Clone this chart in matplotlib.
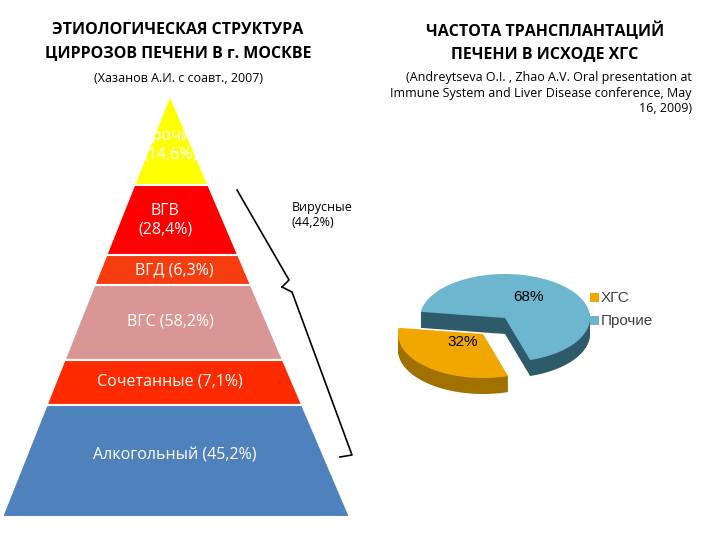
import numpy as np
import matplotlib
matplotlib.use("Agg")
import matplotlib.pyplot as plt
from matplotlib.patches import Polygon, Rectangle

plt.rcParams['font.family'] = ['Open Sans', 'DejaVu Sans']

# data
layer_labels = ["Прочие\n(14,6%)", "ВГВ\n(28,4%)", "ВГД (6,3%)", "ВГС (58,2%)",
                "Сочетанные (7,1%)", "Алкогольный (45,2%)"]
layer_colors = ["#ffff00", "#ff0000", "#f53d10", "#d99694", "#fe2a00", "#4f81bd"]
pie_labels = ["ХГС", "Прочие"]
pie_values = [32, 68]
pie_colors = ["#f0a800", "#6db6d0"]
pie_dark = ["#a07000", "#2f5a6a"]

# layout (pixels)
bounds = [95, 185, 255, 285, 360, 405, 517]
apex_x, base_l, base_r = 170, 2, 350

fig = plt.figure(figsize=(7.2, 5.4), dpi=100)
ax = fig.add_axes([0, 0, 1, 1])
ax.set_xlim(0, 720); ax.set_ylim(540, 0); ax.axis('off')

def xl(y): return apex_x + (base_l - apex_x) * (y - bounds[0]) / (bounds[-1] - bounds[0])
def xr(y): return apex_x + (base_r - apex_x) * (y - bounds[0]) / (bounds[-1] - bounds[0])

label_pos = [(170, 145, 'center'), (165, 220, 'center'), (None, 270, 'left'),
             (170, 322, 'center'), (170, 382, 'center'), (175, 455, 'center')]
for i, (lab, col) in enumerate(zip(layer_labels, layer_colors)):
    y0, y1 = bounds[i], bounds[i + 1]
    ax.add_patch(Polygon([(xl(y0), y0), (xr(y0), y0), (xr(y1), y1), (xl(y1), y1)],
                         closed=True, fc=col, ec='white', lw=1.5))
    x, y, ha = label_pos[i]
    if x is None:
        x = xl(y) + 35
    ax.text(x, y, lab, color='white', fontsize=11.5, ha=ha, va='center',
            linespacing=1.2)

# bracket
ax.plot([237, 289, 282], [190, 280, 287], color='black', lw=1.2)
ax.plot([282, 292, 352, 340], [287, 292, 455, 457], color='black', lw=1.2)
ax.text(292, 215, "Вирусные\n(44,2%)", fontsize=9, ha='left', va='center')

# titles
ax.text(178, 42, "ЭТИОЛОГИЧЕСКАЯ СТРУКТУРА\nЦИРРОЗОВ ПЕЧЕНИ В г. МОСКВЕ",
        fontsize=11.5, fontweight='bold', ha='center', va='center', linespacing=1.6)
ax.text(178, 78, "(Хазанов А.И. с соавт., 2007)", fontsize=9, ha='center', va='center')
ax.text(545, 42, "ЧАСТОТА ТРАНСПЛАНТАЦИЙ\nПЕЧЕНИ В ИСХОДЕ ХГС",
        fontsize=11.5, fontweight='bold', ha='center', va='center', linespacing=1.6)
ax.text(692, 93, "(Andreytseva O.I. , Zhao A.V. Oral presentation at\n"
        "Immune System and Liver Disease conference, May\n16, 2009)",
        fontsize=9, ha='right', va='center', linespacing=1.3)

# 3D pie
cx, cy, rx, ry, depth = 505, 318, 85, 44, 16
start = 172.0
offsets = [(-22, 16), (0, 0)]
total = sum(pie_values)
a0 = start
for v, c, d, off in zip(pie_values, pie_colors, pie_dark, offsets):
    a1 = a0 + 360 * v / total
    t = np.radians(np.linspace(a0, a1, 100))
    px = cx + off[0] + rx * np.cos(t)
    py = cy + off[1] - ry * np.sin(t)
    pts = np.vstack([[cx + off[0], cy + off[1]], np.column_stack([px, py])])
    for k in np.arange(depth, 0, -1):
        ax.add_patch(Polygon(pts + [0, k], closed=True, fc=d, ec='none'))
    ax.add_patch(Polygon(pts, closed=True, fc=c, ec='none'))
    a0 = a1
ax.text(528, 297, "68%", fontsize=11, family=['Liberation Sans'], ha='center', va='center')
ax.text(463, 342, "32%", fontsize=11, family=['Liberation Sans'], ha='center', va='center')

for i, (lab, c) in enumerate(zip(pie_labels, pie_colors)):
    y = 298 + i * 23
    ax.add_patch(Rectangle((590, y - 5), 9, 9, fc=c, ec='none'))
    ax.text(601, y, lab, fontsize=11, family=['Liberation Sans'], color='#404040',
            ha='left', va='center')

fig.savefig("out.png", dpi=100, facecolor='white')
